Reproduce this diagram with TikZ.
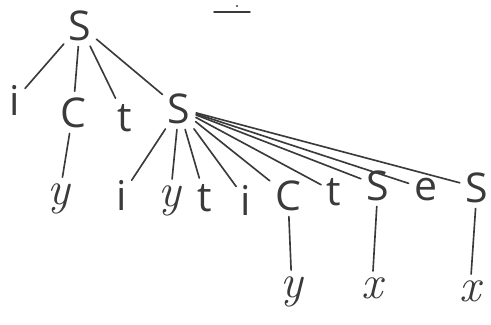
\documentclass[tikz,border=0pt]{standalone}
\usepackage{fontspec}
\usepackage{tikz}
\usetikzlibrary{positioning}
\setmainfont{Open Sans}
\newfontfamily\slantfont{Latin Modern Roman}[Scale=1.15]
\definecolor{pencil}{HTML}{3A3A3A}

\tikzset{
  sym/.style={font=\fontsize{35}{40}\selectfont, text=pencil, inner sep=2pt, anchor=base},
  var/.style={sym, font=\fontsize{35}{40}\selectfont\slantfont\itshape},
  branch/.style={pencil, line width=1.4pt, line cap=round, shorten <=3pt, shorten >=3pt}
}

\begin{document}
\begin{tikzpicture}[x=0.03cm,y=-0.03cm]
  \useasboundingbox (0,0) rectangle (491,324);

  % stray pen mark at the top
  \draw[pencil, line width=1.5pt, line cap=round] (214,12) -- (250,12);
  \fill[pencil] (237,6) circle (0.9pt);

  % top level
  \node[sym] (s0) at (80,40) {S};
  \node[sym] (i1) at (15,115) {i};
  \node[sym] (c1) at (73,127) {C};
  \node[sym] (t1) at (125,131) {t};
  \node[sym] (s1) at (179,123) {S};
  \node[var] (y1) at (59,204) {y};

  % second level
  \node[sym] (i2) at (122,210) {i};
  \node[var] (y2) at (170,206) {y};
  \node[sym] (t2) at (205,211) {t};
  \node[sym] (i3) at (246,215) {i};
  \node[sym] (c2) at (288,210) {C};
  \node[sym] (t3) at (334,205) {t};
  \node[sym] (s2) at (378,200) {S};
  \node[sym] (e1) at (426,200) {e};
  \node[sym] (s3) at (477,202) {S};

  % leaves
  \node[var] (y3) at (292,297) {y};
  \node[var] (x1) at (372,298) {x};
  \node[var] (x2) at (470,301) {x};

  \foreach \k in {i1,c1,t1,s1}
    \draw[branch] (s0) -- (\k);
  \draw[branch] (c1) -- (y1);
  \foreach \k in {i2,y2,t2,i3,c2,t3,s2,e1,s3}
    \draw[branch] (s1) -- (\k);
  \draw[branch] (c2) -- (y3);
  \draw[branch] (s2) -- (x1);
  \draw[branch] (s3) -- (x2);
\end{tikzpicture}
\end{document}
